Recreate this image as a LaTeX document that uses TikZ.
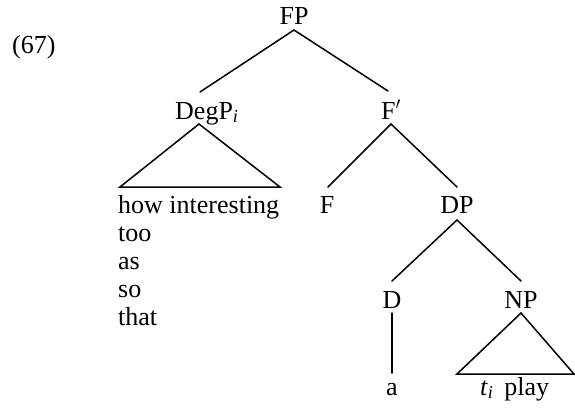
\documentclass[tikz,border=0pt]{standalone}
\usepackage{fontspec}
\setmainfont{Liberation Serif}
\begin{document}
\begin{tikzpicture}[x=1pt,y=-1pt,
  lab/.style={inner sep=0pt,anchor=base,font=\fontsize{26}{30}\selectfont},
  labw/.style={inner sep=0pt,anchor=base west,font=\fontsize{26}{30}\selectfont},
  edge/.style={line width=1.5pt,line cap=round,line join=miter}]
\useasboundingbox (0,0) rectangle (575,410);
% labels
\node[labw] (ex) at (12,53) {(67)};
\node[lab] (FP) at (294,24) {FP};
\node[labw] (DegP) at (175,119) {DegP\textsubscript{\textit{i}}};
\node[lab] (Fbar) at (391,119) {F$'$};
\node[labw] (how) at (118,213) {how interesting};
\node[labw] (too) at (118,241) {too};
\node[labw] (as) at (118,269) {as};
\node[labw] (so) at (118,297) {so};
\node[labw] (that) at (118,325) {that};
\node[lab] (F) at (327,213) {F};
\node[lab] (DP) at (457,213) {DP};
\node[lab] (D) at (392,308) {D};
\node[lab] (NP) at (521,308) {NP};
\node[lab] (a) at (392,395) {a};
\node[labw] (tplay) at (480,395) {\textit{t}\textsubscript{\textit{i}}\, play};
% line end points
\coordinate (FPb) at (294,30);
\coordinate (DegPt) at (200,92);
\coordinate (Fbart) at (388,91);
\coordinate (DegPapex) at (199,124);
\coordinate (DegPl) at (120,187);
\coordinate (DegPr) at (280,187);
\coordinate (Fbarb) at (391,124);
\coordinate (Ft) at (328,187);
\coordinate (DPt) at (457,187);
\coordinate (DPb) at (457,220);
\coordinate (Dt) at (392,281);
\coordinate (NPt) at (521,281);
\coordinate (Db) at (392,313);
\coordinate (ab) at (392,373);
\coordinate (NPapex) at (521,313);
\coordinate (NPl) at (457,374);
\coordinate (NPr) at (574,374);
% edges
\draw[edge] (DegPt) -- (FPb) -- (Fbart);
\draw[edge] (DegPl) -- (DegPapex) -- (DegPr) -- cycle;
\draw[edge] (Ft) -- (Fbarb) -- (DPt);
\draw[edge] (Dt) -- (DPb) -- (NPt);
\draw[edge] (Db) -- (ab);
\draw[edge] (NPl) -- (NPapex) -- (NPr) -- cycle;
\end{tikzpicture}
\end{document}
